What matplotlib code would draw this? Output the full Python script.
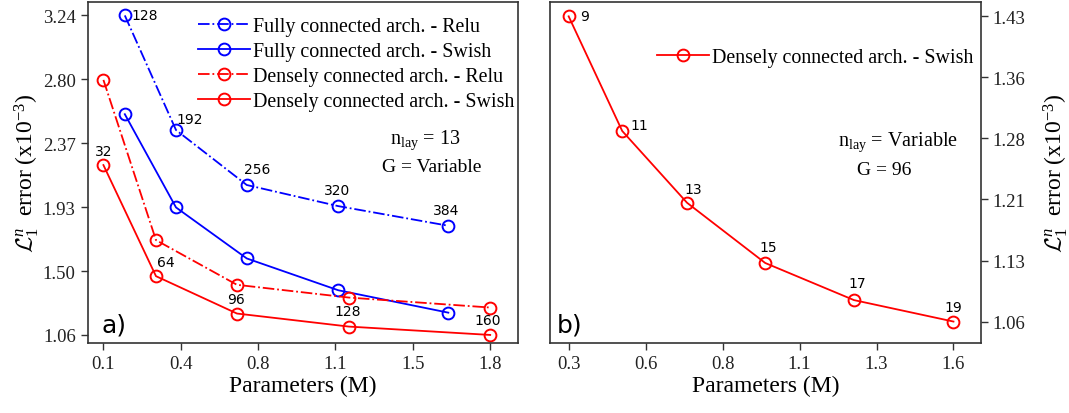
import numpy as np
import matplotlib
matplotlib.use("Agg")
import matplotlib.pyplot as plt

plt.rcParams['font.family'] = ['Liberation Serif', 'DejaVu Sans']
plt.rcParams['mathtext.fontset'] = 'custom'
plt.rcParams['mathtext.rm'] = 'Liberation Serif'
plt.rcParams['mathtext.it'] = 'Liberation Serif:italic'
plt.rcParams['mathtext.cal'] = 'cmsy10'

# ---------------- data (panel a) ----------------
fc_x = [0.194, 0.419, 0.730, 1.132, 1.616]
fc_relu = [3.240, 2.458, 2.083, 1.939, 1.805]
fc_swish = [2.566, 1.930, 1.582, 1.365, 1.212]
fc_labels = ['128', '192', '256', '320', '384']

dc_x = [0.100, 0.331, 0.687, 1.179, 1.800]
dc_relu = [2.800, 1.707, 1.402, 1.315, 1.247]
dc_swish = [2.219, 1.461, 1.206, 1.117, 1.060]
dc_labels = ['32', '64', '96', '128', '160']

a_xticks = np.linspace(0.1, 1.8, 6)
a_yticks = np.linspace(1.06, 3.24, 6)

# ---------------- data (panel b) ----------------
b_x = [0.300, 0.481, 0.700, 0.964, 1.264, 1.600]
b_y = [1.430, 1.291, 1.204, 1.131, 1.086, 1.060]
b_labels = ['9', '11', '13', '15', '17', '19']

b_xticks = np.linspace(0.3, 1.6, 6)
b_yticks = np.linspace(1.06, 1.43, 6)

W, H = 1069, 414
fig = plt.figure(figsize=(W / 100, H / 100), dpi=100)
axa = fig.add_axes([87.5 / W, 1 - 344 / H, 430 / W, 341.5 / H])
axb = fig.add_axes([550 / W, 1 - 344 / H, 431 / W, 341.5 / H])

spine_c = '#333333'
tick_fs = 13.5
ann_fs = 10
leg_fs = 14.4
lab_fs = 17
mk = dict(marker='o', markersize=8.5, markerfacecolor='none', markeredgewidth=1.4)
lw = 1.3

# ---- panel a ----
axa.plot(fc_x, fc_relu, '-.', color='blue', lw=lw, label='Fully connected arch. - Relu', **mk)
axa.plot(fc_x, fc_swish, '-', color='blue', lw=lw, label='Fully connected arch. - Swish', **mk)
axa.plot(dc_x, dc_relu, '-.', color='red', lw=lw, label='Densely connected arch. - Relu', **mk)
axa.plot(dc_x, dc_swish, '-', color='red', lw=lw, label='Densely connected arch. - Swish', **mk)

fc_off = [(20, 0), (14, 11), (10, 16), (-1, 16), (-2, 16)]
for x, y, t, o in zip(fc_x, fc_relu, fc_labels, fc_off):
    axa.annotate(t, (x, y), xytext=o, textcoords='offset pixels', ha='center', va='center',
                 fontsize=ann_fs, family='DejaVu Sans')
dc_off = [(0, 14), (10, 14), (-1, 15), (-1, 16), (-3, 15)]
for x, y, t, o in zip(dc_x, dc_swish, dc_labels, dc_off):
    axa.annotate(t, (x, y), xytext=o, textcoords='offset pixels', ha='center', va='center',
                 fontsize=ann_fs, family='DejaVu Sans')

axa.set_xlim(0.03, 1.92)
axa.set_ylim(1.005, 3.335)
axa.set_xticks(a_xticks)
axa.set_xticklabels(['%.1f' % v for v in a_xticks])
axa.set_yticks(a_yticks)
axa.set_yticklabels(['%.2f' % v for v in a_yticks])
axa.set_xlabel('Parameters (M)', fontsize=lab_fs, labelpad=2)
axa.set_ylabel(r'$\mathcal{L}_1^n$  error (x10$^{-3}$)', fontsize=lab_fs, labelpad=1)
axa.text(0.033, 0.035, 'a)', transform=axa.transAxes, fontsize=18, family='DejaVu Sans',
         ha='left', va='baseline')
axa.text(0.785, 0.586, r'n$_{\rm lay}$ = 13', transform=axa.transAxes, fontsize=14.5,
         ha='center', va='baseline')
axa.text(0.80, 0.505, 'G = Variable', transform=axa.transAxes, fontsize=14,
         ha='center', va='baseline')
axa.legend(loc='upper left', bbox_to_anchor=(0.256, 0.955), frameon=False, fontsize=leg_fs,
           handlelength=2.6, handletextpad=0.15, labelspacing=0.3, borderpad=0,
           borderaxespad=0)

# ---- panel b ----
axb.plot(b_x, b_y, '-', color='red', lw=lw, label='Densely connected arch. - Swish', **mk)
b_off = [(16, 0), (17, 6), (6, 14), (3, 16), (3, 17), (0, 15)]
for x, y, t, o in zip(b_x, b_y, b_labels, b_off):
    axb.annotate(t, (x, y), xytext=o, textcoords='offset pixels', ha='center', va='center',
                 fontsize=ann_fs, family='DejaVu Sans')
axb.set_xlim(0.237, 1.693)
axb.set_ylim(1.034, 1.448)
axb.set_xticks(b_xticks)
axb.set_xticklabels(['%.1f' % v for v in b_xticks])
axb.set_yticks(b_yticks)
axb.set_yticklabels(['%.2f' % v for v in b_yticks])
axb.yaxis.tick_right()
axb.yaxis.set_label_position('right')
axb.set_xlabel('Parameters (M)', fontsize=lab_fs, labelpad=2)
axb.set_ylabel(r'$\mathcal{L}_1^n$  error (x10$^{-3}$)', fontsize=lab_fs, labelpad=11, rotation=90)
axb.text(0.015, 0.035, 'b)', transform=axb.transAxes, fontsize=18, family='DejaVu Sans',
         ha='left', va='baseline')
axb.text(0.807, 0.579, r'n$_{\rm lay}$ = Variable', transform=axb.transAxes, fontsize=14.5,
         ha='center', va='baseline')
axb.text(0.775, 0.495, 'G = 96', transform=axb.transAxes, fontsize=14,
         ha='center', va='baseline')
axb.legend(loc='center left', bbox_to_anchor=(0.248, 0.836), frameon=False, fontsize=leg_fs,
           handlelength=2.6, handletextpad=0.15, borderpad=0, borderaxespad=0)

for ax in (axa, axb):
    for s in ax.spines.values():
        s.set_color(spine_c)
        s.set_linewidth(1.2)
    ax.tick_params(direction='out', length=5, width=1, colors=spine_c, labelsize=tick_fs,
                   labelcolor='#222222')

fig.savefig('out.png', dpi=100)
